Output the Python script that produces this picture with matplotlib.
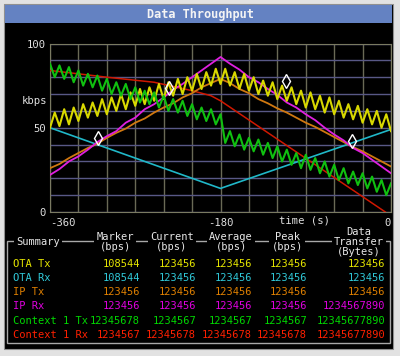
import matplotlib
matplotlib.use('Agg')
import matplotlib.pyplot as plt
from matplotlib.patches import Rectangle

# time axis (s)
t5 = list(range(-360, 1, 5))
t10 = list(range(-360, 1, 10))

# traces (kbps)
ota_tx = [50, 59, 51, 61, 52, 62, 54, 64, 56, 65, 57, 67, 58, 68, 60, 70, 61, 71, 63, 73,
          64, 74, 66, 76, 67, 77, 69, 79, 70, 80, 72, 82, 73, 83, 75, 85, 76,
          85, 75, 83, 73, 82, 72, 80, 70, 78, 69, 77, 67, 75, 66, 74, 64, 72, 62, 71,
          61, 69, 59, 68, 58, 66, 56, 64, 55, 63, 53, 61, 52, 60, 50, 58, 48]
ctx1_tx = [88, 80, 87, 79, 86, 77, 84, 75, 82, 74, 81, 72, 79, 70, 77, 69, 76, 67, 74, 65,
           72, 64, 71, 62, 69, 60, 67, 59, 66, 57, 64, 55, 62, 54, 61, 52, 58,
           41, 48, 39, 46, 37, 44, 36, 43, 34, 41, 32, 39, 30, 37, 28, 35, 26, 34, 25,
           32, 23, 30, 21, 28, 19, 26, 17, 24, 16, 23, 14, 21, 12, 19, 10, 17]
ip_rx = [22, 25.5, 30, 33, 37, 41.5, 45, 48, 53, 56, 61, 64, 68, 72.5, 76, 80, 84, 88, 92,
         88, 84.5, 80, 77, 73, 69.5, 65, 62, 58, 54.5, 50, 46, 42.5, 38, 35, 31, 27, 23]
ip_tx = [26, 28.5, 32, 35, 38, 40.5, 44, 47, 49.5, 53, 55.5, 59, 62, 64.5, 68, 70.5, 74, 76.5, 79,
         76.5, 73, 70.5, 67, 64.5, 61.5, 59, 56, 53, 50.5, 47.5, 44.5, 41.5, 38.5, 36, 33, 30, 27]
ota_rx_t = [-360, -180, 0]
ota_rx = [50, 14, 49]
ctx1_rx_t = [-360, -300, -250, -210, -190, -180, -6]
ctx1_rx = [84, 80, 77, 72, 69, 66, 0]

marker_t = [-309, -234, -111, -41]
marker_v = [44, 73.5, 78, 42]

# summary table
rows = ['OTA Tx', 'OTA Rx', 'IP Tx', 'IP Rx', 'Context 1 Tx', 'Context 1 Rx']
headers = ['Marker\n(bps)', 'Current\n(bps)', 'Average\n(bps)', 'Peak\n(bps)', 'Data\nTransfer\n(Bytes)']
marker_col = ['108544', '108544', '123456', '123456', '12345678', '1234567']
current_col = ['123456', '123456', '123456', '123456', '1234567', '12345678']
average_col = ['123456', '123456', '123456', '123456', '1234567', '12345678']
peak_col = ['123456', '123456', '123456', '123456', '1234567', '12345678']
transfer_col = ['123456', '123456', '123456', '1234567890', '12345677890', '12345677890']

row_colors = ['#e6e600', '#30c8d8', '#e08000', '#e000e0', '#00d800', '#ff2000']
mono = 'DejaVu Sans Mono'

fig = plt.figure(figsize=(4, 3.56), dpi=100, facecolor='#e2e2e2')

# pixel-space overlay for the screen frame
ov = fig.add_axes([0, 0, 1, 1])
ov.set_xlim(0, 400)
ov.set_ylim(356, 0)
ov.axis('off')
ov.add_patch(Rectangle((4, 4), 389, 345, facecolor='black', edgecolor='#909090', lw=0.8))
ov.add_patch(Rectangle((5, 5), 387, 18, facecolor='#6482c2', edgecolor='none'))
ov.text(200, 14.5, 'Data Throughput', color='#f4f4f4', fontsize=8.6, fontweight='bold',
        family=mono, ha='center', va='center')

# summary box
ov.add_patch(Rectangle((6.5, 241), 383, 102, facecolor='none', edgecolor='#a8a8a8', lw=1))
ov.text(16, 242, 'Summary', color='#e8e8e8', fontsize=7.5, family=mono, ha='left', va='center',
        bbox=dict(facecolor='black', edgecolor='none', pad=1.5))
head_x = [115, 172, 231, 287, 359]
for hx, h in zip(head_x, headers):
    ov.text(hx, 242, h, color='#e8e8e8', fontsize=7.5, family=mono, ha='center', va='center',
            linespacing=0.95, bbox=dict(facecolor='black', edgecolor='none', pad=1.5))

row_y = [264, 278, 292, 306, 321, 335]
col_right = [140, 196, 252, 307, 385]
cols = [marker_col, current_col, average_col, peak_col, transfer_col]
for i, name in enumerate(rows):
    ov.text(13, row_y[i], name, color=row_colors[i], fontsize=7.5, family=mono, ha='left', va='center')
    for cx, col in zip(col_right, cols):
        ov.text(cx, row_y[i], col[i], color=row_colors[i], fontsize=7.5, family=mono,
                ha='right', va='center')

# plot area
ax = fig.add_axes([50 / 400, (356 - 212) / 356, 341 / 400, 168.5 / 356])
ax.set_facecolor('black')
ax.set_xlim(-360, 0)
ax.set_ylim(0, 100)

ax.plot(ota_rx_t, ota_rx, color='#20b8c8', lw=1.2, zorder=2)
ax.plot(ctx1_rx_t, ctx1_rx, color='#d01800', lw=1.1, zorder=3)
ax.plot(t10, ip_tx, color='#d07810', lw=1.3, zorder=4)
ax.plot(t10, ip_rx, color='#e020e0', lw=1.3, zorder=5)
ax.plot(t5, ota_tx, color='#d8d800', lw=1.5, zorder=6)
ax.plot(t5, ctx1_tx, color='#10c010', lw=1.5, zorder=7)
ax.plot(marker_t, marker_v, ls='none', marker='d', ms=7, mfc='none', mec='white', mew=1.0, zorder=8)

ax.set_xticks([-360, -180, 0])
ax.set_xticks(range(-360, 1, 30), minor=True)
ax.set_yticks([0, 50, 100])
ax.set_yticks(range(0, 101, 10), minor=True)
ax.xaxis.grid(True, which='both', color='#6a6a56', lw=1)
ax.yaxis.grid(True, which='both', color='#585886', lw=1)
ax.set_axisbelow(True)
ax.tick_params(which='both', length=0, colors='#e0e0e0', labelsize=7.6)
ax.tick_params(axis='y', pad=3)
ax.tick_params(axis='x', pad=4)
ax.set_xticklabels(['-360', '-180', '0'], family=mono)
ax.set_yticklabels(['0', '50', '100'], family=mono)
xl = ax.get_xticklabels()
xl[0].set_ha('left')
xl[-1].set_ha('right')
for s in ax.spines.values():
    s.set_color('#7a7a62')

ax.text(-0.009, 66, 'kbps', transform=ax.get_yaxis_transform(), color='#e0e0e0',
        fontsize=7.6, family=mono, ha='right', va='center')
ax.text(-91, -5.3, 'time (s)', color='#e0e0e0', fontsize=7.6, family=mono,
        ha='center', va='center', clip_on=False)

fig.savefig('out.png', dpi=100, facecolor=fig.get_facecolor())
